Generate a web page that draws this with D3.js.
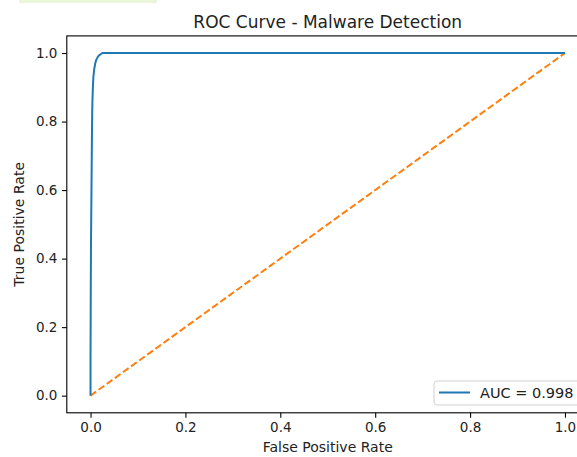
<!DOCTYPE html>
<html>
<head>
<meta charset="utf-8">
<script src="https://cdn.jsdelivr.net/npm/d3@7"></script>
<style>
  body { margin: 0; background: #fff; }
  svg { display: block; font-family: "DejaVu Sans", sans-serif; }
</style>
</head>
<body>
<script>
// ROC curve points
var fpr = [0, 0, 0.0005, 0.001, 0.0015, 0.002, 0.0025, 0.003, 0.0035, 0.004, 0.005, 0.006, 0.008, 0.010, 0.012, 0.015, 0.018, 0.022, 0.025, 0.1, 0.5, 1.0];
var tpr = [0, 0.1, 0.3, 0.45, 0.52, 0.6, 0.68, 0.76, 0.82, 0.86, 0.9, 0.93, 0.955, 0.97, 0.98, 0.988, 0.993, 0.997, 1, 1, 1, 1];
var chance = [0, 1];
var ticks = [0, 0.2, 0.4, 0.6, 0.8, 1.0];
var legendLabel = "AUC = 0.998";

var W = 577, H = 457;
var x0 = 66.8, x1 = 588.7, y0 = 412.8, y1 = 35.9;

var svg = d3.select("body").append("svg")
  .attr("width", W)
  .attr("height", H);

// faint green strip at the top of the screenshot
svg.append("rect")
  .attr("x", 19).attr("y", 0)
  .attr("width", 138).attr("height", 3)
  .attr("fill", "#eaf6da");

var xScale = d3.scaleLinear().domain([-0.05, 1.05]).range([x0, x1]);
var yScale = d3.scaleLinear().domain([-0.05, 1.05]).range([y0, y1]);

var line = d3.line()
  .x(function(d) { return xScale(d[0]); })
  .y(function(d) { return yScale(d[1]); });

// chance line
svg.append("path")
  .datum(chance.map(function(v) { return [v, v]; }))
  .attr("d", line)
  .attr("fill", "none")
  .attr("stroke", "#ff7f0e")
  .attr("stroke-width", 2)
  .attr("stroke-dasharray", "7,3");

// ROC curve
svg.append("path")
  .datum(fpr.map(function(f, i) { return [f, tpr[i]]; }))
  .attr("d", line)
  .attr("fill", "none")
  .attr("stroke", "#1f77b4")
  .attr("stroke-width", 2)
  .attr("stroke-linejoin", "round");

// axes
var xAxis = d3.axisBottom(xScale).tickValues(ticks).tickFormat(d3.format(".1f"))
  .tickSize(4.9).tickPadding(4.5);
var yAxis = d3.axisLeft(yScale).tickValues(ticks).tickFormat(d3.format(".1f"))
  .tickSize(4.9).tickPadding(4.5);

var gx = svg.append("g")
  .attr("transform", "translate(0," + y0 + ")")
  .call(xAxis);
var gy = svg.append("g")
  .attr("transform", "translate(" + x0 + ",0)")
  .call(yAxis);

[gx, gy].forEach(function(g) {
  g.select(".domain").remove();
  g.selectAll("line").attr("stroke", "#000").attr("stroke-width", 1.1);
  g.selectAll("text")
    .attr("fill", "#222")
    .style("font-family", "DejaVu Sans")
    .style("font-size", "13.5px");
});

// spines (right one falls outside the picture)
svg.append("rect")
  .attr("x", x0).attr("y", y1)
  .attr("width", x1 - x0).attr("height", y0 - y1)
  .attr("fill", "none")
  .attr("stroke", "#000")
  .attr("stroke-width", 1.1);

// legend
var lg = svg.append("g");
lg.append("rect")
  .attr("x", 434).attr("y", 381)
  .attr("width", 150).attr("height", 24)
  .attr("rx", 3)
  .attr("fill", "#fff")
  .attr("fill-opacity", 0.8)
  .attr("stroke", "#d0d0d0")
  .attr("stroke-width", 1);
lg.append("line")
  .attr("x1", 439).attr("x2", 470)
  .attr("y1", 392.5).attr("y2", 392.5)
  .attr("stroke", "#1f77b4")
  .attr("stroke-width", 2);
lg.append("text")
  .attr("x", 480).attr("y", 398)
  .attr("fill", "#222")
  .style("font-size", "14.5px")
  .text(legendLabel);

// title and labels
svg.append("text")
  .attr("x", (x0 + x1) / 2).attr("y", 28)
  .attr("text-anchor", "middle")
  .attr("fill", "#222")
  .style("font-size", "17px")
  .text("ROC Curve - Malware Detection");

svg.append("text")
  .attr("x", (x0 + x1) / 2).attr("y", 452)
  .attr("text-anchor", "middle")
  .attr("fill", "#222")
  .style("font-size", "14px")
  .text("False Positive Rate");

svg.append("text")
  .attr("transform", "translate(24," + ((y0 + y1) / 2) + ") rotate(-90)")
  .attr("text-anchor", "middle")
  .attr("fill", "#222")
  .style("font-size", "14px")
  .text("True Positive Rate");
</script>
</body>
</html>
